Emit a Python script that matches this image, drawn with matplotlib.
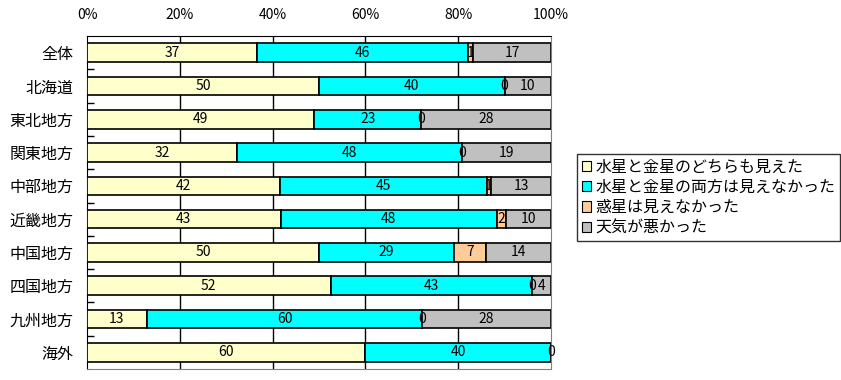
import matplotlib
matplotlib.use("Agg")
import matplotlib.pyplot as plt
from matplotlib.patches import Patch

plt.rcParams['font.family'] = ['Noto Sans CJK JP', 'DejaVu Sans']

# data (percent, as labelled)
regions = ['全体', '北海道', '東北地方', '関東地方', '中部地方', '近畿地方',
           '中国地方', '四国地方', '九州地方', '海外']
see_both = [37, 50, 49, 32, 42, 43, 50, 52, 13, 60]
see_neither = [46, 40, 23, 48, 45, 48, 29, 43, 60, 40]
planet_not_seen = [1, 0, 0, 0, 1, 2, 7, 0, 0, 0]
bad_weather = [17, 10, 28, 19, 13, 10, 14, 4, 28, 0]

series_names = ['水星と金星のどちらも見えた', '水星と金星の両方は見えなかった',
                '惑星は見えなかった', '天気が悪かった']
colors = ['#FFFFCC', '#00FFFF', '#FFCC99', '#C0C0C0']
tick_vals = [0, 20, 40, 60, 80, 100]

all_series = [see_both, see_neither, planet_not_seen, bad_weather]
# 100% stacked: scale each row by its total
totals = [sum(s[i] for s in all_series) for i in range(len(regions))]

fig = plt.figure(figsize=(8.41, 3.8), dpi=100)
ax = fig.add_axes([87/841, 1 - 369/380, (551 - 87)/841, (369 - 36)/380])

y = list(range(len(regions)))
left = [0] * len(regions)
for name, vals, col in zip(series_names, all_series, colors):
    widths = [v * 100 / t for v, t in zip(vals, totals)]
    ax.barh(y, widths, left=left, height=0.56, color=col, edgecolor='black',
            linewidth=1.2, label=name, zorder=3)
    for i, v in enumerate(vals):
        if regions[i] == '海外' and name == '天気が悪かった':
            continue
        ax.text(left[i] + widths[i] / 2, i, f'{v:d}', ha='center', va='center',
                fontsize=10, zorder=4, clip_on=False)
    left = [a + b for a, b in zip(left, widths)]

ax.set_xlim(0, 100)
ax.set_ylim(len(regions) - 0.5, -0.5)

for t in tick_vals[1:-1]:
    ax.axvline(t, color='black', linewidth=1, zorder=1)

ax.xaxis.tick_top()
ax.set_xticks(tick_vals)
ax.set_xticklabels([f'{t}%' for t in tick_vals], fontsize=10)
ax.tick_params(axis='x', length=0, pad=10)

ax.set_yticks(y)
ax.set_yticklabels(regions, fontsize=11.5)
ax.set_yticks([i + 0.5 for i in y[:-1]], minor=True)
ax.tick_params(axis='y', which='major', length=0, pad=10)
ax.tick_params(axis='y', which='minor', direction='in', length=5, width=1, color='black')

ax.spines['top'].set_color('black')
ax.spines['left'].set_color('black')
ax.spines['right'].set_color('#808080')
ax.spines['bottom'].set_color('#808080')

handles = [Patch(facecolor=c, edgecolor='black', linewidth=0.8) for c in colors]
leg = fig.legend(handles, series_names, loc='upper left',
                 bbox_to_anchor=(577/841, 1 - 154/380), fontsize=11.5,
                 frameon=True, fancybox=False, edgecolor='black',
                 handlelength=0.6, handleheight=0.6, handletextpad=0.25,
                 borderpad=0.3, labelspacing=0.2, borderaxespad=0)
leg.get_frame().set_linewidth(1)

fig.savefig('out.png', dpi=100)
